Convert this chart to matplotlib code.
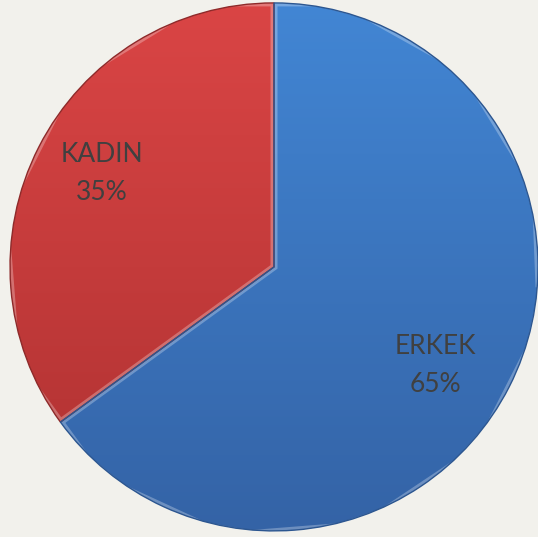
import numpy as np
import matplotlib
matplotlib.use("Agg")
import matplotlib.pyplot as plt
from matplotlib.colors import LinearSegmentedColormap

# veri
labels = ["KADIN", "ERKEK"]
values = [35, 65]
top_colors = ["#DA4545", "#4286D4"]
bottom_colors = ["#AE3131", "#3463A6"]
edge_colors = ["#8E2A2A", "#2C5690"]
label_shift = [-1.6, -4.6]     # etiket açısı düzeltmesi (derece)
label_dist = [0.743, 0.716]    # etiket uzaklığı

plt.rcParams['font.family'] = ['Lato', 'DejaVu Sans']

fig = plt.figure(figsize=(5.38, 5.37), dpi=100)
fig.patch.set_facecolor("#F2F1EC")
ax = fig.add_axes([0, 0, 1, 1])
ax.set_facecolor("#F2F1EC")

wedges, texts = ax.pie(values, labels=[f"{l}\n{v}%" for l, v in zip(labels, values)],
                       startangle=90, counterclock=True, radius=1.0,
                       wedgeprops=dict(linewidth=1.0),
                       textprops=dict(fontsize=19, color="#404040"))

# dikey renk geçişi
grad = np.linspace(0, 1, 256).reshape(-1, 1)
for w, c0, c1, ec in zip(wedges, top_colors, bottom_colors, edge_colors):
    w.set_facecolor("none")
    w.set_edgecolor(ec)
    w.set_zorder(3)
    cmap = LinearSegmentedColormap.from_list("g", [c0, c1])
    im = ax.imshow(grad, cmap=cmap, extent=(-1, 1, -1, 1), aspect="auto",
                   origin="upper", zorder=2)
    im.set_clip_path(w)
    # kenar parlaması (içe doğru ince açık bant)
    hl = plt.Polygon(w.get_path().vertices * w.r + np.array(w.center), closed=True,
                     fill=False, edgecolor="white", alpha=0.28, linewidth=5, zorder=2.5)
    ax.add_patch(hl)
    hl.set_clip_path(w)

for w, t, s, d in zip(wedges, texts, label_shift, label_dist):
    ang = np.deg2rad((w.theta1 + w.theta2) / 2 + s)
    t.set_position((d * np.cos(ang), d * np.sin(ang)))
    t.set_ha("center")
    t.set_va("center")
    t.set_multialignment("center")
    t.set_linespacing(1.65)
    t.set_zorder(5)

ax.set_xlim(-1.038, 1.0)
ax.set_ylim(-1.023, 1.011)
ax.set_aspect("equal")
ax.axis("off")

fig.savefig("out.png", dpi=100, facecolor=fig.get_facecolor())
